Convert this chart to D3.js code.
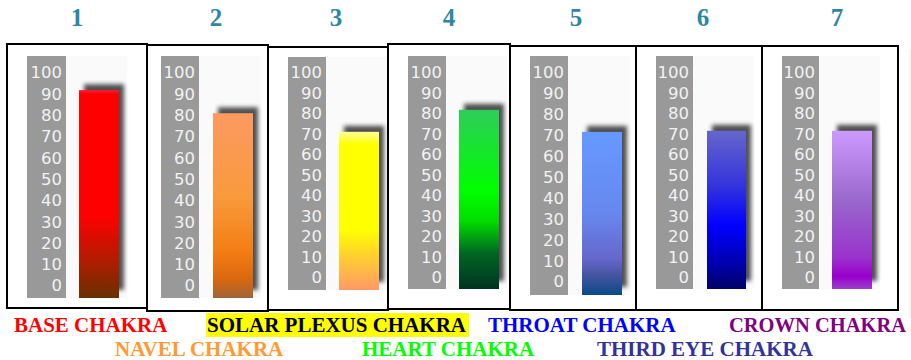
<!DOCTYPE html>
<html><head><meta charset="utf-8">
<script src="https://cdn.jsdelivr.net/npm/d3@7"></script>
<style>html,body{margin:0;padding:0;background:#fff;}svg{display:block;}</style>
</head><body>
<script>
// ---- data ----
const chakraNumbers = ["1","2","3","4","5","6","7"];
const chakraValues = [90, 80, 70, 80, 70, 70, 70];
const tickValues = [0,10,20,30,40,50,60,70,80,90,100];
const chakraNames = ["BASE CHAKRA","NAVEL CHAKRA","SOLAR PLEXUS CHAKRA","HEART CHAKRA","THROAT CHAKRA","THIRD EYE CHAKRA","CROWN CHAKRA"];

// ---- styles ----
const barStops = [
  [[0,"#ff1a3a"],[0.02,"#ff0000"],[0.6,"#ff0000"],[0.8,"#b81a00"],[1,"#6a3000"]],
  [[0,"#fc9a62"],[0.45,"#f99a3c"],[0.75,"#f37d14"],[0.9,"#d9670f"],[1,"#9e6438"]],
  [[0,"#ffff9a"],[0.08,"#ffff00"],[0.62,"#ffff00"],[0.8,"#ffcc33"],[1,"#ff9966"]],
  [[0,"#2ecc5a"],[0.45,"#00ff00"],[0.62,"#00dd00"],[0.8,"#006622"],[1,"#003322"]],
  [[0,"#6699ff"],[0.5,"#6688ee"],[0.78,"#6666cc"],[0.88,"#4455a0"],[1,"#0a4a88"]],
  [[0,"#6666cc"],[0.35,"#3333dd"],[0.6,"#0000ff"],[0.85,"#0000aa"],[1,"#000066"]],
  [[0,"#cc99ff"],[0.45,"#9966cc"],[0.8,"#9933cc"],[0.92,"#9900cc"],[1,"#9a40cc"]]
];
const nameColors = ["#ff0000","#ff9933","#000000","#00ff00","#0000ff","#333399","#800080"];

// ---- layout (frame geometry of each panel) ----
const panels = [
  {box:[7,147,44,308],  strip:[27,66,56,298],  bar:[79,119],  base:298, span:231, lab:[285,72]},
  {box:[147,268,45,311],strip:[161,199,56,298],bar:[213,253], base:298, span:231, lab:[285,72]},
  {box:[268,388,47,310],strip:[288,326,57,290],bar:[339,379], base:290, span:226, lab:[277,72]},
  {box:[388,510,44,309],strip:[408,446,56,289],bar:[459,499], base:289, span:224, lab:[277,72]},
  {box:[510,636,46,310],strip:[530,568,56,295],bar:[582,622], base:295, span:233, lab:[281,72]},
  {box:[636,762,46,310],strip:[656,693,56,289],bar:[707,746], base:289, span:226, lab:[277,72]},
  {box:[762,898,46,310],strip:[782,819,56,289],bar:[832,872], base:289, span:226, lab:[277,72]}
];
const numberX = [77,216,336,449,576,703,837];
const nameLayout = [[14,332],[115,356],[207,332],[362,356],[488,332],[597,356],[729,332]];

const W = 911, H = 360;
const svg = d3.select("body").append("svg").attr("width", W).attr("height", H);
const defs = svg.append("defs");

const f = defs.append("filter").attr("id","shadow").attr("x","-30%").attr("y","-30%").attr("width","160%").attr("height","160%");
f.append("feGaussianBlur").attr("stdDeviation", 2);

barStops.forEach((stops, i) => {
  const g = defs.append("linearGradient").attr("id","grad"+i).attr("x1",0).attr("y1",0).attr("x2",0).attr("y2",1);
  stops.forEach(s => g.append("stop").attr("offset", s[0]).attr("stop-color", s[1]));
});

// faint edge of neighbouring image
svg.append("line").attr("x1",910).attr("x2",910).attr("y1",50).attr("y2",318).attr("stroke","#dcf5dc").attr("stroke-width",1);

chakraValues.forEach((v, i) => {
  const p = panels[i];
  const g = svg.append("g");
  const y = d3.scaleLinear().domain([0,100]).range([p.base, p.base - p.span]);
  const yLab = d3.scaleLinear().domain([0,100]).range(p.lab);

  // light backdrop
  g.append("rect").attr("x", p.strip[0]).attr("y", p.strip[2])
    .attr("width", p.bar[1] + 8 - p.strip[0]).attr("height", p.strip[3] - p.strip[2]).attr("fill","#fafafa");
  // grey scale strip
  g.append("rect").attr("x", p.strip[0]).attr("y", p.strip[2])
    .attr("width", p.strip[1] - p.strip[0]).attr("height", p.strip[3] - p.strip[2]).attr("fill","#999999");

  const ax = g.append("g").attr("transform", `translate(${p.strip[1]-4},0)`)
    .call(d3.axisLeft(yLab).tickValues(tickValues).tickSize(0).tickPadding(0));
  ax.select(".domain").remove();
  ax.selectAll("text").attr("fill","#f2f2f2").attr("font-family","'DejaVu Sans', Verdana, sans-serif")
    .attr("font-size","16.5px").attr("dy","0.36em");

  // shadow
  g.append("rect").attr("x", p.bar[0] + 5).attr("y", y(v) - 6)
    .attr("width", p.bar[1] - p.bar[0]).attr("height", y(0) - y(v) - 2)
    .attr("fill","#333").attr("opacity",0.85).attr("filter","url(#shadow)");
  // bar
  g.append("rect").attr("x", p.bar[0]).attr("y", y(v))
    .attr("width", p.bar[1] - p.bar[0]).attr("height", y(0) - y(v))
    .attr("fill", `url(#grad${i})`);

  // panel frame
  g.append("rect").attr("x", p.box[0]).attr("y", p.box[2])
    .attr("width", p.box[1] - p.box[0]).attr("height", p.box[3] - p.box[2])
    .attr("fill","none").attr("stroke","#000").attr("stroke-width",2);

  // number
  svg.append("text").attr("x", numberX[i]).attr("y", 26).attr("text-anchor","middle")
    .attr("font-family","'Liberation Serif', 'Times New Roman', serif").attr("font-weight","bold")
    .attr("font-size","25px").attr("fill","#2e86a6").text(chakraNumbers[i]);
});

// names
const nameG = svg.append("g");
chakraNames.forEach((n, i) => {
  const [x, yb] = nameLayout[i];
  if (i === 2) {
    nameG.append("rect").attr("x", x - 1).attr("y", 313).attr("width", 263).attr("height", 24).attr("fill","#ffff00");
  }
  nameG.append("text").attr("x", x).attr("y", yb)
    .attr("font-family","'Liberation Serif', 'Times New Roman', serif").attr("font-weight","bold")
    .attr("font-size", i === 6 ? "20.5px" : "21px").attr("fill", nameColors[i]).text(n);
});
</script>
</body></html>
